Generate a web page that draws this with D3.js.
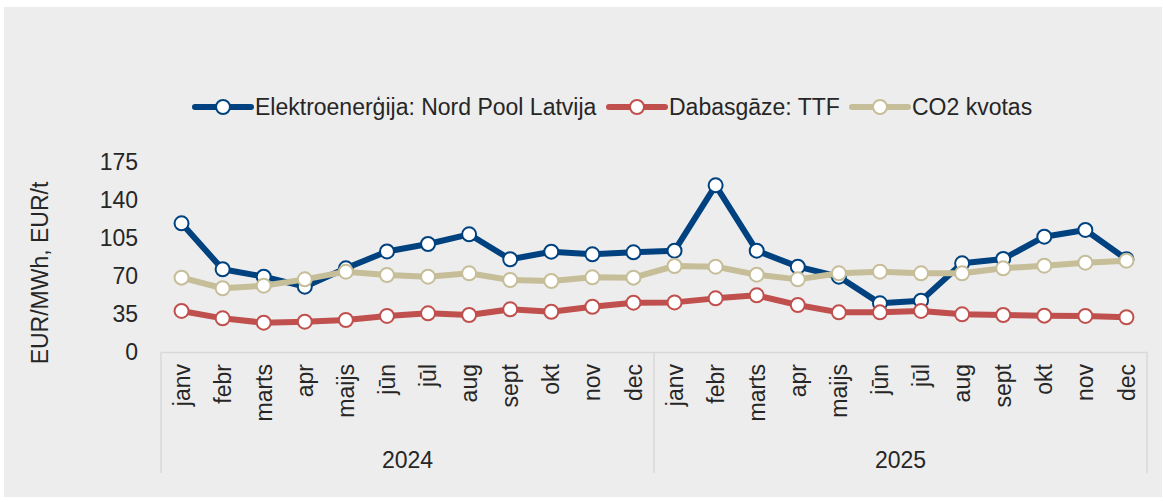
<!DOCTYPE html>
<html>
<head>
<meta charset="utf-8">
<script src="https://cdn.jsdelivr.net/npm/d3@7"></script>
<style>
  body { margin: 0; background: #fff; }
  svg text { font-family: "Liberation Sans", Arial, sans-serif; fill: #262626; }
</style>
</head>
<body>
<div id="chart"></div>
<script>
// chart data
const years = ["2024", "2025"];
const months = ["janv", "febr", "marts", "apr", "maijs", "jūn", "jūl", "aug", "sept", "okt", "nov", "dec"];
const seriesNames = ["Elektroenerģija: Nord Pool Latvija", "Dabasgāze: TTF", "CO2 kvotas"];
const electricity = [118.5, 76.2, 69.4, 60.2, 77.1, 92.6, 99.5, 108.4, 85.4, 92.4, 90, 91.8,
                     93.3, 153.5, 93.3, 78.6, 69.4, 44.8, 47.3, 81.7, 85.7, 106.2, 112.4, 85.4];
const gas = [37.8, 31, 27, 27.9, 29.5, 33.2, 35.6, 34.1, 39.3, 37.1, 41.7, 45.4,
             45.7, 49.4, 52.2, 43.3, 36.5, 36.5, 37.8, 34.7, 34.1, 33.5, 33.2, 32];
const co2 = [68.5, 58.7, 61.1, 66.9, 74, 70.9, 69.4, 72.5, 66.3, 65.4, 68.8, 68.5,
             79.2, 78.6, 71.2, 66.9, 72.5, 74, 72.5, 72.5, 77.1, 79.5, 82.3, 84.1];
const yTicks = [0, 35, 70, 105, 140, 175];
const colors = ["#00427f", "#c0504d", "#c6be98"];

const width = 1163, height = 502;
const keys = years.flatMap(y => months.map(m => y + "|" + m));

const svg = d3.select("#chart").append("svg")
  .attr("width", width)
  .attr("height", height);

// panel background
svg.append("rect")
  .attr("x", 4).attr("y", 7)
  .attr("width", 1158).attr("height", 490)
  .attr("fill", "#ededed");

const x = d3.scaleBand().domain(keys).range([161, 1147]);
const y = d3.scaleLinear().domain([0, 175]).range([352, 162]);
const cx = k => x(k) + x.bandwidth() / 2;

// y axis
const yAxis = svg.append("g")
  .attr("transform", "translate(161,0)")
  .call(d3.axisLeft(y).tickValues(yTicks).tickSize(0).tickPadding(23));
yAxis.select(".domain").remove();
yAxis.selectAll("text")
  .style("font-size", "23px")
  .style("font-family", "'Liberation Sans', Arial, sans-serif")
  .attr("fill", "#262626");

svg.append("text")
  .attr("transform", "translate(40,273) rotate(-90)")
  .attr("text-anchor", "middle")
  .attr("dy", "0.35em")
  .style("font-size", "23px")
  .text("EUR/MWh, EUR/t");

// x axis with month labels
const xAxis = svg.append("g")
  .attr("transform", "translate(0,352)")
  .call(d3.axisBottom(x).tickSize(0).tickFormat(k => k.split("|")[1]));
xAxis.select(".domain").attr("stroke", "#d9d9d9").attr("stroke-width", 1.5);
xAxis.selectAll("text")
  .style("font-size", "23px")
  .style("font-family", "'Liberation Sans', Arial, sans-serif")
  .attr("fill", "#262626")
  .attr("text-anchor", "end")
  .attr("transform", "rotate(-90)")
  .attr("x", -12)
  .attr("y", 0)
  .attr("dy", "0.35em");

// year group separators and labels
const groupEdges = [x(keys[0]), x(keys[12]), x(keys[23]) + x.bandwidth()];
svg.selectAll(".sep")
  .data(groupEdges)
  .enter().append("line")
  .attr("class", "sep")
  .attr("x1", d => d).attr("x2", d => d)
  .attr("y1", 352).attr("y2", 473)
  .attr("stroke", "#d9d9d9")
  .attr("stroke-width", 1.5);

svg.selectAll(".year")
  .data(years)
  .enter().append("text")
  .attr("class", "year")
  .attr("x", (d, i) => (groupEdges[i] + groupEdges[i + 1]) / 2)
  .attr("y", 460)
  .attr("dy", "0.35em")
  .attr("text-anchor", "middle")
  .style("font-size", "23px")
  .text(d => d);

// lines
const allSeries = [electricity, gas, co2];
const line = d3.line().x((d, i) => cx(keys[i])).y(d => y(d));

allSeries.forEach((vals, s) => {
  const g = svg.append("g");
  g.append("path")
    .datum(vals)
    .attr("d", line)
    .attr("fill", "none")
    .attr("stroke", colors[s])
    .attr("stroke-width", 6)
    .attr("stroke-linejoin", "round");
  g.selectAll("circle")
    .data(vals)
    .enter().append("circle")
    .attr("cx", (d, i) => cx(keys[i]))
    .attr("cy", d => y(d))
    .attr("r", 7)
    .attr("fill", "#fff")
    .attr("stroke", colors[s])
    .attr("stroke-width", 2);
});

// legend
const legendItems = [
  { name: seriesNames[0], x: 195 },
  { name: seriesNames[1], x: 609 },
  { name: seriesNames[2], x: 852 }
];
const legend = svg.selectAll(".legend")
  .data(legendItems)
  .enter().append("g")
  .attr("class", "legend")
  .attr("transform", d => `translate(${d.x},107)`);

legend.append("line")
  .attr("x1", 0).attr("x2", 56)
  .attr("stroke", (d, i) => colors[i])
  .attr("stroke-width", 6)
  .attr("stroke-linecap", "round");

legend.append("circle")
  .attr("cx", 28)
  .attr("r", 7)
  .attr("fill", "#fff")
  .attr("stroke", (d, i) => colors[i])
  .attr("stroke-width", 2);

legend.append("text")
  .attr("x", 60)
  .attr("dy", "0.35em")
  .style("font-size", "23px")
  .text(d => d.name);
</script>
</body>
</html>
